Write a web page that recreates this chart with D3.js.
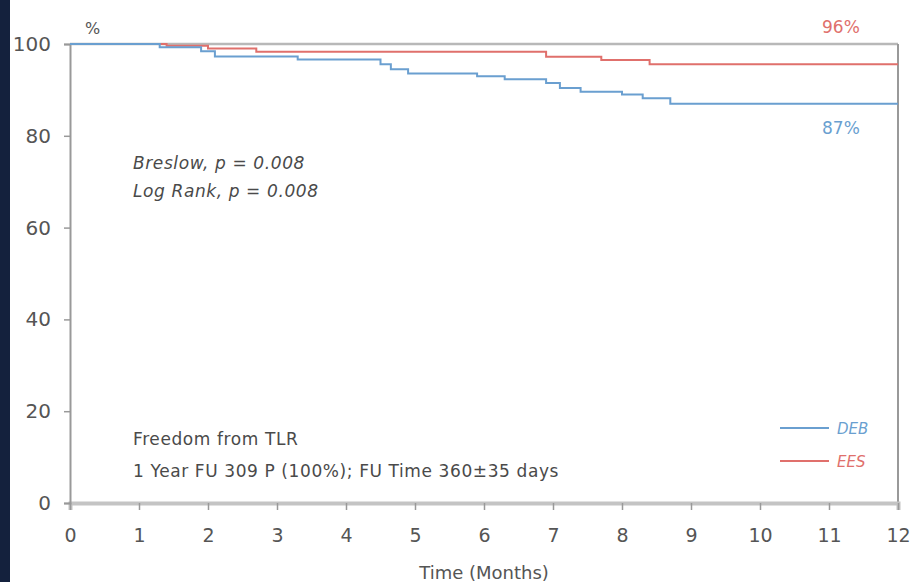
<!DOCTYPE html>
<html>
<head>
<meta charset="utf-8">
<script src="https://cdn.jsdelivr.net/npm/d3@7"></script>
<style>
  html, body { margin: 0; padding: 0; background: #fff; }
  svg { display: block; font-family: "DejaVu Sans", "Open Sans", sans-serif; }
  .axis text { fill: #555; font-family: "DejaVu Sans", sans-serif; }
  .note { fill: #4a4a4a; font-size: 17px; letter-spacing: 0.6px; }
</style>
</head>
<body>
<div id="chart"></div>
<script>
// Kaplan-Meier steps: [month, % free from TLR]
const debSteps = [[0, 100], [1.3, 99.3], [1.9, 98.4], [2.1, 97.3], [3.3, 96.6], [4.5, 95.6],
  [4.65, 94.5], [4.9, 93.6], [5.9, 93.0], [6.3, 92.3], [6.9, 91.5], [7.1, 90.4],
  [7.4, 89.6], [8.0, 89.0], [8.3, 88.2], [8.7, 87.0]];
const eesSteps = [[0, 100], [1.4, 99.6], [2.0, 99.0], [2.7, 98.3], [6.9, 97.2], [7.7, 96.5], [8.4, 95.6]];
const xTicks = [0, 1, 2, 3, 4, 5, 6, 7, 8, 9, 10, 11, 12];
const yTicks = [0, 20, 40, 60, 80, 100];
const seriesNames = ["DEB", "EES"];
const endLabels = ["87%", "96%"];
const statLines = ["Breslow, p = 0.008", "Log Rank, p = 0.008"];
const infoLines = ["Freedom from TLR", "1 Year FU 309 P (100%); FU Time 360\u00b135 days"];

const W = 912, H = 582;
const margin = {top: 44, right: 14, bottom: 79, left: 70};
const colors = {DEB: "#6a9fd0", EES: "#e0706c"};

const svg = d3.select("#chart").append("svg")
  .attr("width", W)
  .attr("height", H);

const x = d3.scaleLinear().domain([0, 12]).range([margin.left, W - margin.right]);
const y = d3.scaleLinear().domain([0, 100]).range([H - margin.bottom, margin.top]);

// frame: top and right
svg.append("line")
  .attr("x1", x(0)).attr("x2", x(12)).attr("y1", y(100)).attr("y2", y(100))
  .attr("stroke", "#b8b8b8").attr("stroke-width", 2.5);
svg.append("line")
  .attr("x1", x(12)).attr("x2", x(12)).attr("y1", y(100)).attr("y2", y(0))
  .attr("stroke", "#999").attr("stroke-width", 2);

// X axis
const xAxis = svg.append("g")
  .attr("class", "axis")
  .attr("transform", `translate(0,${y(0)})`)
  .call(d3.axisBottom(x).tickValues(xTicks).tickSize(7).tickPadding(19));
xAxis.select(".domain").attr("stroke", "#c4c4c4").attr("stroke-width", 4);
xAxis.selectAll(".tick line").attr("stroke", "#999").attr("stroke-width", 1.5);
xAxis.selectAll("text").style("font-size", "19px");

// Y axis
const yAxis = svg.append("g")
  .attr("class", "axis")
  .attr("transform", `translate(${x(0)},0)`)
  .call(d3.axisLeft(y).tickValues(yTicks).tickSize(6).tickPadding(13));
yAxis.select(".domain").attr("stroke", "#999").attr("stroke-width", 2);
yAxis.selectAll(".tick line").attr("stroke", "#999").attr("stroke-width", 1.5);
yAxis.selectAll("text").style("font-size", "20px");

// dark strip on the left edge (drawn over the clipped "100")
svg.append("rect").attr("x", 0).attr("y", 0).attr("width", 10).attr("height", H).attr("fill", "#14213d");

svg.append("text")
  .attr("x", 85).attr("y", 34)
  .attr("fill", "#555").style("font-size", "16px")
  .text("%");

svg.append("text")
  .attr("x", (x(0) + x(12)) / 2).attr("y", 579)
  .attr("text-anchor", "middle")
  .attr("fill", "#555").style("font-size", "18px")
  .text("Time (Months)");

// curves
const line = d3.line()
  .x(d => x(d[0]))
  .y(d => y(d[1]))
  .curve(d3.curveStepAfter);

[eesSteps, debSteps].forEach((steps, i) => {
  const name = i === 0 ? "EES" : "DEB";
  const pts = steps.concat([[12, steps[steps.length - 1][1]]]);
  svg.append("path")
    .datum(pts)
    .attr("fill", "none")
    .attr("stroke", colors[name])
    .attr("stroke-width", 2)
    .attr("d", line);
});

// end-of-curve labels
svg.append("text").attr("x", 822).attr("y", 33)
  .attr("fill", colors.EES).style("font-size", "17px").text(endLabels[1]);
svg.append("text").attr("x", 822).attr("y", 134)
  .attr("fill", colors.DEB).style("font-size", "17px").text(endLabels[0]);

// statistics
statLines.forEach((t, i) => {
  svg.append("text")
    .attr("class", "note")
    .attr("x", 133).attr("y", 169 + i * 28)
    .style("font-style", "italic")
    .text(t);
});

infoLines.forEach((t, i) => {
  svg.append("text")
    .attr("class", "note")
    .attr("x", 133).attr("y", 445 + i * 32)
    .text(t);
});

// legend
seriesNames.forEach((name, i) => {
  const ly = 428 + i * 33;
  svg.append("line")
    .attr("x1", 780).attr("x2", 829).attr("y1", ly).attr("y2", ly)
    .attr("stroke", colors[name]).attr("stroke-width", 2);
  svg.append("text")
    .attr("x", 837).attr("y", ly + 6)
    .attr("fill", colors[name])
    .style("font-size", "15px").style("font-style", "italic")
    .text(name);
});
</script>
</body>
</html>
